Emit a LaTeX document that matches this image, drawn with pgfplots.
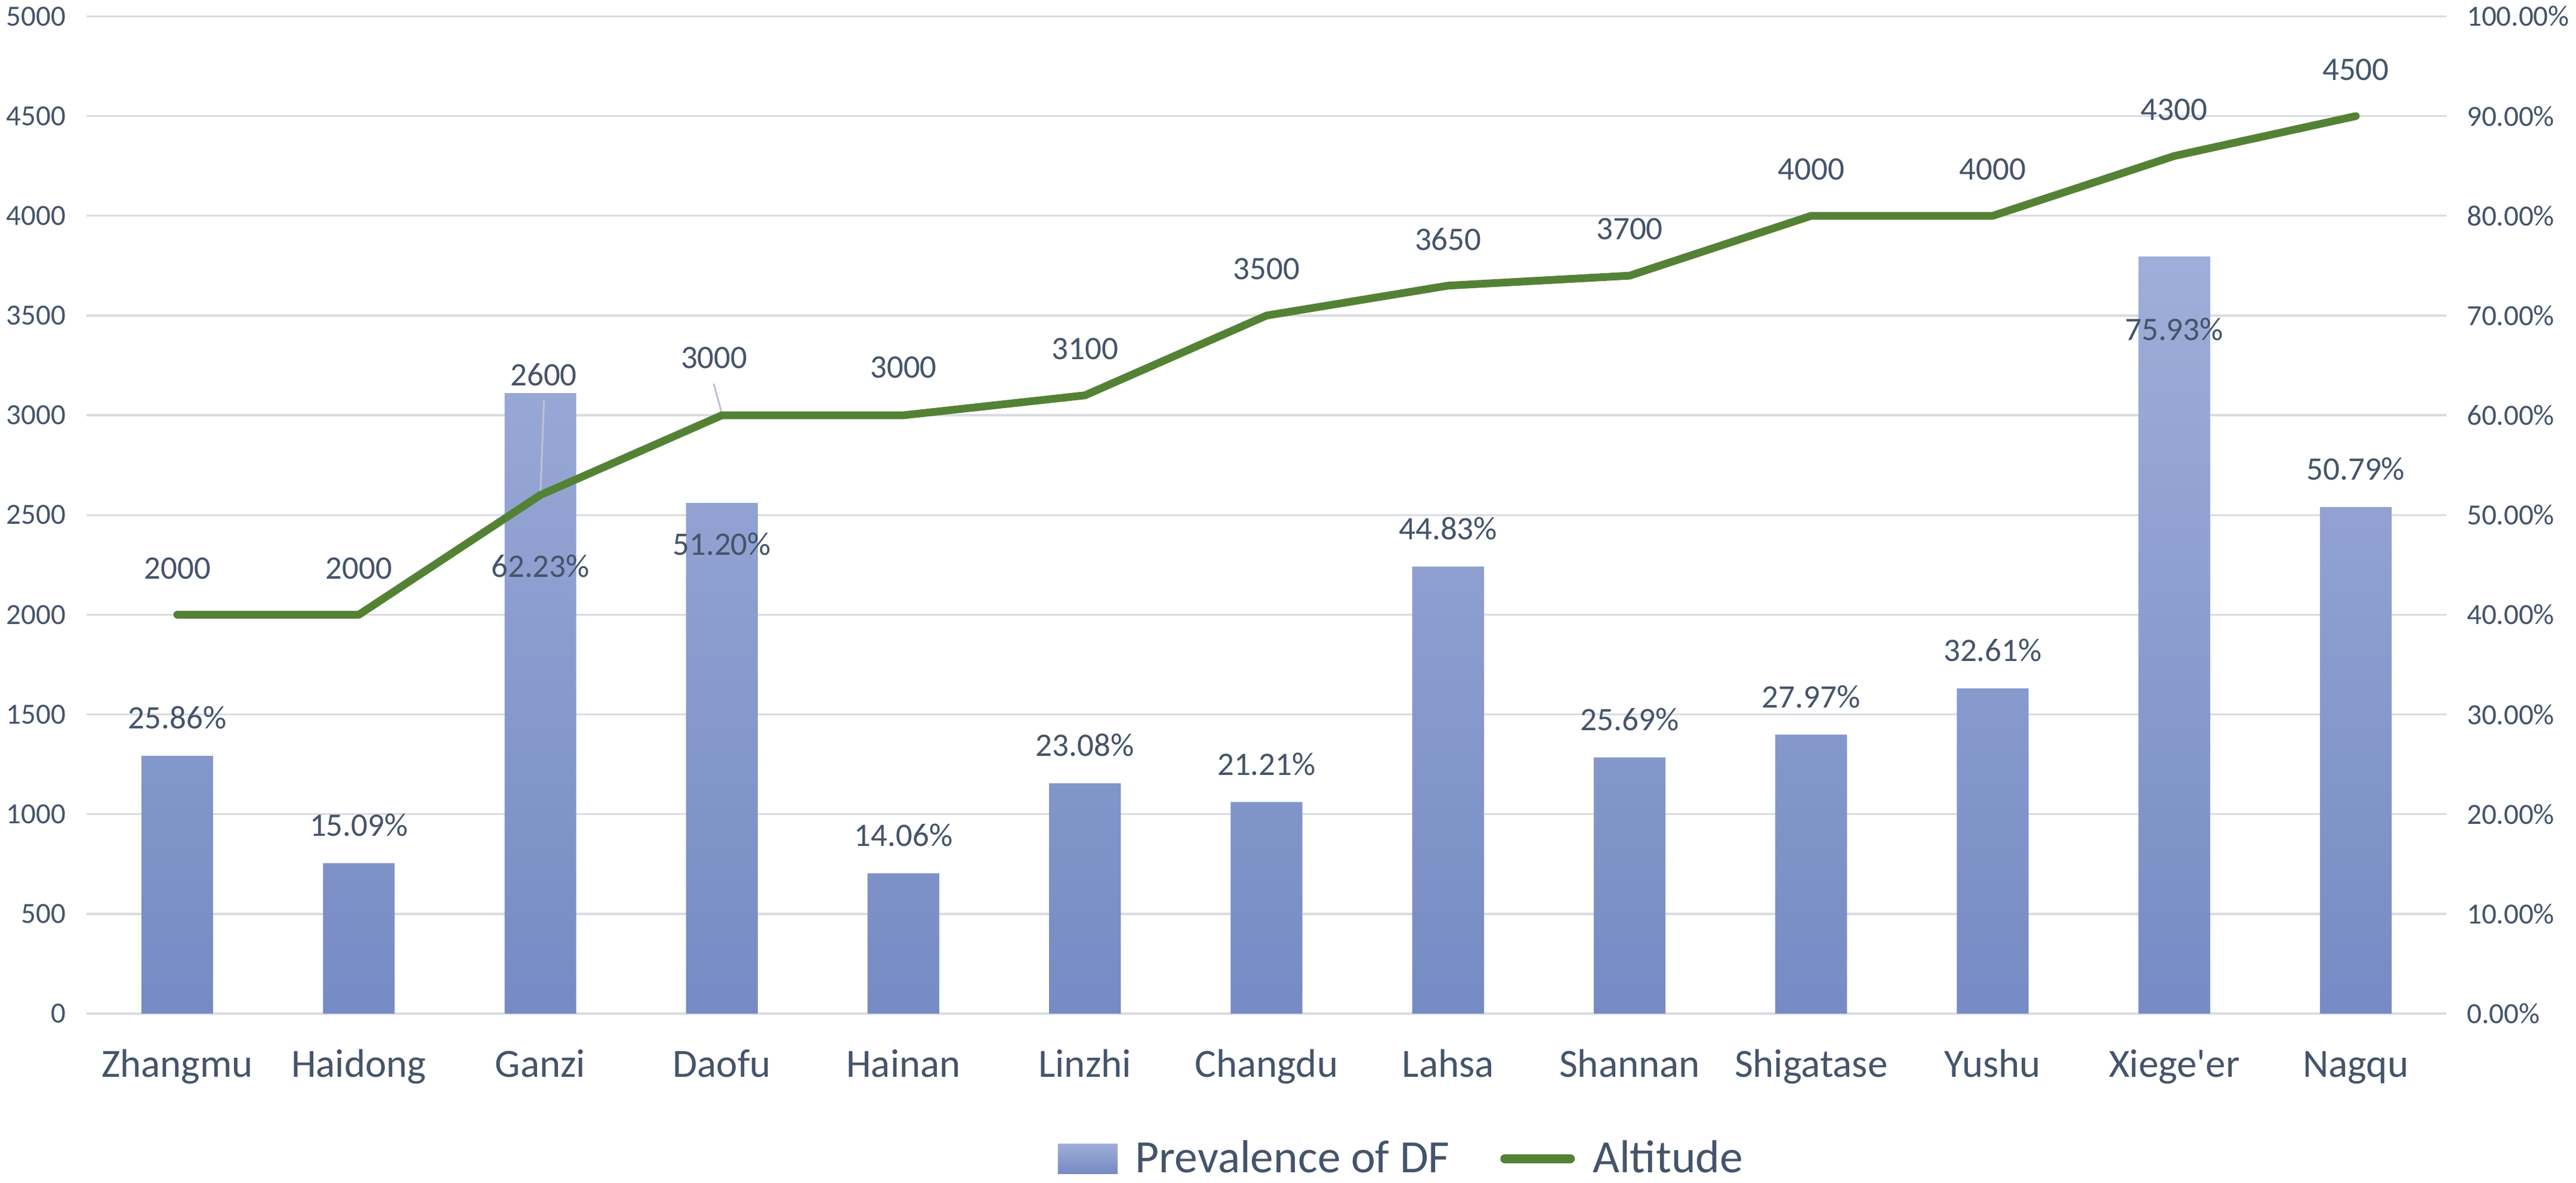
\documentclass[border=0pt]{standalone}
\usepackage{fontspec}
\setmainfont{Carlito}
\usepackage{pgfplots}
\usepackage{pgfplotstable}
\pgfplotsset{compat=1.18}
\definecolor{txt}{HTML}{44546A}
\definecolor{gridc}{HTML}{D9DCE1}
\definecolor{barTop}{HTML}{9FAED9}
\definecolor{barBot}{HTML}{768BC4}
\definecolor{altc}{HTML}{548235}
\definecolor{leader}{HTML}{BCC3D0}

\pgfplotstableread{
x pct dy
0 25.86 12.8
1 15.09 12.8
2 62.23 -58
3 51.20 -13.8
4 14.06 12.8
5 23.08 12.8
6 21.21 12.8
7 44.83 12.8
8 25.69 12.8
9 27.97 12.8
10 32.61 12.8
11 75.93 -24.4
12 50.79 12.8
}\bardata

\pgfplotstableread{
x alt dy dx
0 2000 15.6 0
1 2000 15.6 0
2 2600 40.4 1.1
3 3000 19.2 -2.6
4 3000 16 0
5 3100 15.6 0
6 3500 15.6 0
7 3650 15.6 0
8 3700 15.6 0
9 4000 15.6 0
10 4000 15.6 0
11 4300 15.6 0
12 4500 15.6 0
}\altdata

\begin{document}
\begin{tikzpicture}
\useasboundingbox (0,0) rectangle (863.4pt,396.4pt);
% ---------- axis with bars (right scale, percent) ----------
\begin{axis}[
  at={(29pt,56.6pt)}, anchor=south west,
  width=791pt, height=334.3pt, scale only axis,
  xmin=-0.5, xmax=12.5, ymin=0, ymax=100,
  axis line style={draw=none},
  major tick length=0pt,
  ytick={0,10,...,100},
  ytick pos=right, yticklabel pos=right,
  yticklabel={\pgfmathprintnumber[fixed,fixed zerofill,precision=2]{\tick}\%},
  ymajorgrids, grid style={gridc, line width=0.66pt},
  xtick={0,...,12},
  xticklabels={Zhangmu,Haidong,Ganzi,Daofu,Hainan,Linzhi,Changdu,Lahsa,Shannan,Shigatase,Yushu,Xiege\textquotesingle er,Nagqu},
  xticklabel style={font=\fontsize{13.4}{16}\selectfont, text=txt, anchor=base, yshift=-21.2pt},
  yticklabel style={font=\fontsize{9.8}{12}\selectfont, text=txt, xshift=3.3pt},
  /pgf/number format/assume math mode=true,
  clip=false,
]
\addplot[ybar, bar width=0.395, draw=none, top color=barTop, bottom color=barBot, forget plot]
  table[x=x, y=pct]{\bardata};
\addplot[draw=none, mark=none, forget plot,
  point meta=y,
  nodes near coords={\pgfmathprintnumber[fixed,fixed zerofill,precision=2]{\pgfplotspointmeta}\%},
  visualization depends on={\thisrow{dy} \as \ldy},
  every node near coord/.append style={anchor=center, yshift=\ldy pt, text=txt, font=\fontsize{11}{13}\selectfont},
] table[x=x, y=pct]{\bardata};
\end{axis}
% ---------- axis with the line (left scale, metres) ----------
\begin{axis}[
  at={(29pt,56.6pt)}, anchor=south west,
  width=791pt, height=334.3pt, scale only axis,
  xmin=-0.5, xmax=12.5, ymin=0, ymax=5000,
  axis line style={draw=none},
  major tick length=0pt,
  ytick={0,500,...,5000},
  ytick pos=left, yticklabel pos=left,
  xtick=\empty,
  yticklabel style={font=\fontsize{9.8}{12}\selectfont, text=txt, xshift=-3.5pt},
  /pgf/number format/assume math mode=true,
  /pgf/number format/set thousands separator={},
  clip=false,
  legend columns=2,
  legend style={at={(0.5580,-0.1454)}, anchor=center, draw=none, fill=none,
    font=\fontsize{15.5}{18}\selectfont, text=txt,
    /tikz/every odd column/.append style={column sep=4pt},
    /tikz/every even column/.append style={column sep=15pt}},
]
\draw[leader, line width=0.6pt] (axis cs:2,2605) -- (axis cs:2.02,3077);
\draw[leader, line width=0.6pt] (axis cs:3,3008) -- (axis cs:2.955,3158);
\addplot[altc, line width=2.6pt, line cap=round, line join=round, mark=none, forget plot,
  point meta=y,
  nodes near coords={\pgfmathprintnumber[fixed,precision=0]{\pgfplotspointmeta}},
  visualization depends on={\thisrow{dy} \as \ldy},
  visualization depends on={\thisrow{dx} \as \ldx},
  every node near coord/.append style={anchor=center, yshift=\ldy pt, xshift=\ldx pt, text=txt, font=\fontsize{11}{13}\selectfont},
] table[x=x, y=alt]{\altdata};
\addlegendimage{legend image code/.code={\path[draw=none, top color=barTop, bottom color=barBot] (0pt,-5pt) rectangle (20pt,5pt);}}
\addlegendentry{Prevalence of DF}
\addlegendimage{legend image code/.code={\draw[altc, line width=3pt, line cap=round] (1.5pt,0pt) -- (23.5pt,0pt);}}
\addlegendentry{Altitude}
\end{axis}
\end{tikzpicture}
\end{document}
